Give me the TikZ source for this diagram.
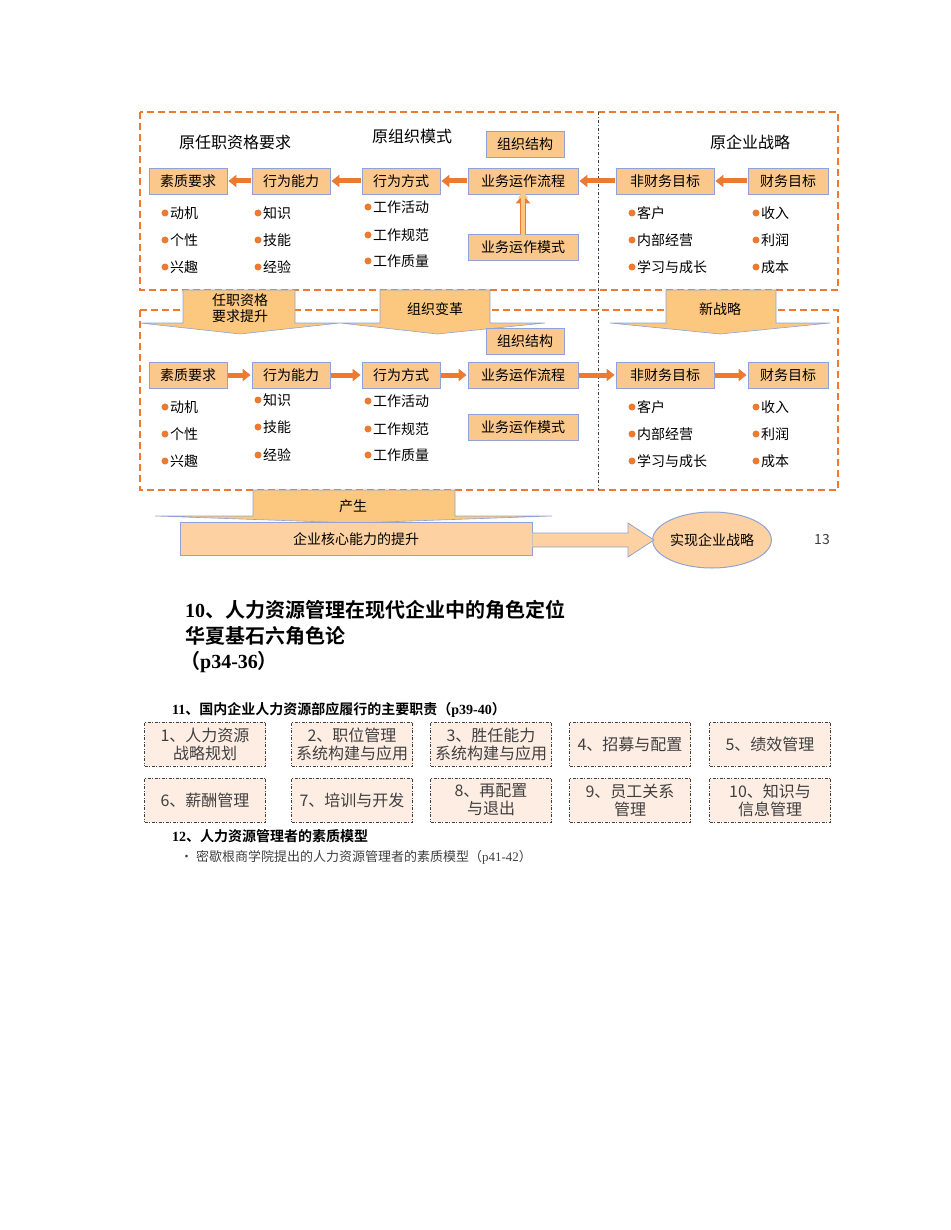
\documentclass[tikz,border=0pt]{standalone}
\usepackage{fontspec}
\setmainfont{Noto Sans CJK SC}[BoldFont={Noto Sans CJK SC Bold}]
\newfontfamily\ser{Liberation Serif}
\usetikzlibrary{arrows.meta,shapes.geometric}
\definecolor{bx}{HTML}{FBC88C}
\definecolor{bd}{HTML}{8FA3D6}
\definecolor{og}{HTML}{EC7A30}
\definecolor{ar}{HTML}{FCC77E}
\definecolor{pk}{HTML}{FDEDE3}
\definecolor{gt}{HTML}{404040}
\begin{document}
\begin{tikzpicture}[x=1pt,y=-1pt,
  bbox/.style={draw=bd,fill=bx,line width=0.8pt,minimum height=26pt,inner sep=0pt,font=\fontsize{14}{14}\selectfont},
  ttl/.style={font=\fontsize{16}{16}\selectfont},
  itm/.style={anchor=west,font=\fontsize{14}{14}\selectfont,inner sep=0pt},
  harr/.style={draw=og,line width=5pt,-{Triangle[length=8pt,width=12pt]},shorten <=1pt,shorten >=1pt},
  frame/.style={draw=og,dashed,dash pattern=on 7pt off 4pt,line width=1.6pt},
  chev/.style={fill=ar,draw=bd,line width=0.6pt},
  duty/.style={draw=gt,fill=pk,dash pattern=on 3pt off 1.5pt on 1pt off 1.5pt,line width=0.8pt,minimum width=121pt,minimum height=44pt,inner sep=0pt,align=center,text=gt,font=\fontsize{16}{18}\selectfont},
  dot/.style={circle,fill=og,inner sep=0pt,minimum size=7pt}]
\useasboundingbox (0,0) rectangle (950,1230);
% frames
\draw[frame] (140,112) rectangle (838,290);
\draw[frame] (140,310) rectangle (838,490);
\draw[gt,dash pattern=on 3pt off 2pt on 1pt off 2pt,line width=0.7pt] (598,112) -- (598,490);
% chevrons top->bottom
\draw[chev] (183,290)--(183,323)--(140,323)--(240,334)--(340,323)--(295,323)--(295,290)--cycle;
\draw[chev] (380,290)--(380,323)--(340,323)--(437,334)--(545,323)--(490,323)--(490,290)--cycle;
\draw[chev] (666,290)--(666,323)--(610,323)--(720,334)--(830,323)--(776,323)--(776,290)--cycle;
\node[align=center,font=\fontsize{14}{16}\selectfont] (c1) at (240,308) {任职资格\\要求提升};
\node[font=\fontsize{14}{14}\selectfont] (c2) at (435,309) {组织变革};
\node[font=\fontsize{14}{14}\selectfont] (c3) at (720,309) {新战略};
% titles
\node[ttl] (t1) at (235,142) {原任职资格要求};
\node[ttl] (t2) at (412,136) {原组织模式};
\node[ttl] (t3) at (750,142) {原企业战略};
% top row
\node[bbox,minimum width=78pt] (a1) at (188,181) {素质要求};
\node[bbox,minimum width=78pt] (a2) at (291,181) {行为能力};
\node[bbox,minimum width=78pt] (a3) at (401,181) {行为方式};
\node[bbox,minimum width=110pt] (a4) at (523,181) {业务运作流程};
\node[bbox,minimum width=98pt] (a5) at (665,181) {非财务目标};
\node[bbox,minimum width=80pt] (a6) at (788,181) {财务目标};
\node[bbox,minimum width=78pt] (ao) at (525,144) {组织结构};
\node[bbox,minimum width=110pt] (am) at (523,247) {业务运作模式};
\draw[harr] (a6)--(a5); \draw[harr] (a5)--(a4); \draw[harr] (a4)--(a3); \draw[harr] (a3)--(a2); \draw[harr] (a2)--(a1);
\draw[draw=og,line width=6pt,-{Triangle[length=9pt,width=14pt]}] (am.north)--(a4.south);
\draw[ar,line width=4pt,-{Triangle[length=7pt,width=10pt]}] ([yshift=-2pt]am.north)--([yshift=3pt]a4.south);
% bottom row
\node[bbox,minimum width=78pt] (b1) at (188,375) {素质要求};
\node[bbox,minimum width=78pt] (b2) at (291,375) {行为能力};
\node[bbox,minimum width=78pt] (b3) at (401,375) {行为方式};
\node[bbox,minimum width=110pt] (b4) at (523,375) {业务运作流程};
\node[bbox,minimum width=98pt] (b5) at (665,375) {非财务目标};
\node[bbox,minimum width=80pt] (b6) at (788,375) {财务目标};
\node[bbox,minimum width=78pt] (bo) at (525,341) {组织结构};
\node[bbox,minimum width=110pt] (bm) at (523,427) {业务运作模式};
\draw[harr] (b1)--(b2); \draw[harr] (b2)--(b3); \draw[harr] (b3)--(b4); \draw[harr] (b4)--(b5); \draw[harr] (b5)--(b6);
% bullet lists
\foreach \dy/\yy in {0/0,194/1}{
 \foreach \x/\y/\t/\n in {165/213/动机/p1,165/240/个性/p2,165/267/兴趣/p3,
   368/207/工作活动/q1,368/235/工作规范/q2,368/261/工作质量/q3,
   632/213/客户/r1,632/240/内部经营/r2,632/267/学习与成长/r3,
   756/213/收入/s1,756/240/利润/s2,756/267/成本/s3}{
   \node[dot] (d\n\yy) at (\x,\y+\dy) {};
   \node[itm] (l\n\yy) at (\x+5,\y+\dy) {\t};
 }}
\foreach \y/\t/\n/\yy in {213/知识/k1/0,240/技能/k2/0,267/经验/k3/0,400/知识/k1/1,427/技能/k2/1,455/经验/k3/1}{
  \node[dot] (d\n\yy) at (258,\y) {};
  \node[itm] (l\n\yy) at (263,\y) {\t};
}
% bottom chevron
\draw[chev] (253,490)--(253,516)--(155,516)--(355,523)--(552,516)--(455,516)--(455,490)--cycle;
\node[font=\fontsize{14}{14}\selectfont] (cs) at (353,506) {产生};
\node[draw=bd,fill=bx!70!orange!60,line width=0.8pt,minimum width=352pt,minimum height=33pt,inner sep=0pt,font=\fontsize{14}{14}\selectfont] (core) at (356,539) {企业核心能力的提升};
\node[ellipse,draw=bd,fill=bx!70!orange!60,line width=1pt,minimum width=110pt,minimum height=56pt,inner sep=0pt,font=\fontsize{14}{14}\selectfont] (goal) at (712,540) {实现企业战略};
\draw[draw=bd,fill=bx!70!orange!60,line width=0.8pt] (core.east|-0,533)--(628,533)--(628,523)--(654,540)--(628,557)--(628,547)--(core.east|-0,547);
\coordinate (gp) at (goal.west);
\node[font=\fontsize{14}{14}\selectfont,text=gt] (pg) at (822,540) {13};
% headings
\node[anchor=west,font=\fontsize{20}{20}\selectfont\bfseries,inner sep=0pt] (h1) at (185,610) {{\ser 10}、人力资源管理在现代企业中的角色定位};
\node[anchor=west,font=\fontsize{20}{20}\selectfont\bfseries,inner sep=0pt] (h2) at (185,636) {华夏基石六角色论};
\node[anchor=west,font=\fontsize{20}{20}\selectfont\bfseries,inner sep=0pt] (h3) at (180,662) {（{\ser p34-36}）};
\node[anchor=west,font=\fontsize{14}{14}\selectfont\bfseries,inner sep=0pt] (h4) at (172,710) {{\ser 11}、国内企业人力资源部应履行的主要职责（{\ser p39-40}）};
% duties
\node[duty] (e1) at (205,744) {1、人力资源\\战略规划};
\node[duty] (e2) at (352,744) {2、职位管理\\系统构建与应用};
\node[duty] (e3) at (491,744) {3、胜任能力\\系统构建与应用};
\node[duty] (e4) at (630,744) {4、招募与配置};
\node[duty] (e5) at (770,744) {5、绩效管理};
\node[duty] (f1) at (205,800) {6、薪酬管理};
\node[duty] (f2) at (352,800) {7、培训与开发};
\node[duty] (f3) at (491,800) {8、再配置\\与退出};
\node[duty] (f4) at (630,800) {9、员工关系\\管理};
\node[duty] (f5) at (770,800) {10、知识与\\信息管理};
\node[anchor=west,font=\fontsize{14}{14}\selectfont\bfseries,inner sep=0pt] (h5) at (172,836) {{\ser 12}、人力资源管理者的素质模型};
\node[anchor=west,font=\fontsize{13}{13}\selectfont,inner sep=0pt,text=gt] (h6) at (180,857) {•\ 密歇根商学院提出的人力资源管理者的素质模型（{\ser p41-42}）};
\end{tikzpicture}
\end{document}
